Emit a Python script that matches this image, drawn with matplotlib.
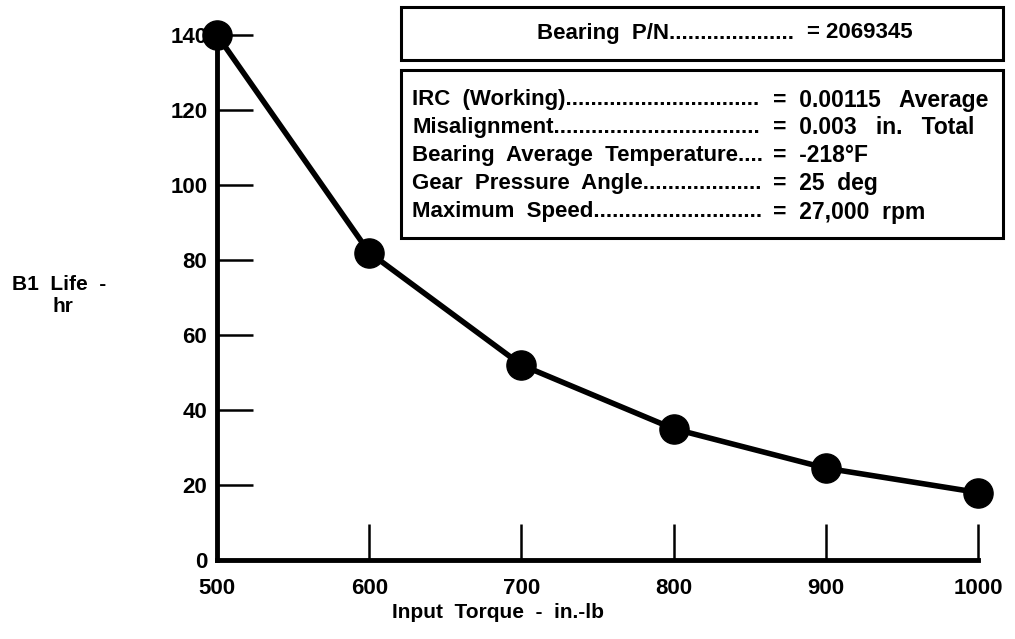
import matplotlib
matplotlib.use("Agg")
import matplotlib.pyplot as plt
from matplotlib.patches import Rectangle

torque = [500, 600, 700, 800, 900, 1000]
life = [140, 82, 52, 35, 24.5, 18]
xticks = [500, 600, 700, 800, 900, 1000]
yticks = [0, 20, 40, 60, 80, 100, 120, 140]

header_name = "Bearing  P/N"
header_value = "= 2069345"
param_names = ["IRC  (Working)", "Misalignment", "Bearing  Average  Temperature",
               "Gear  Pressure  Angle", "Maximum  Speed"]
param_values = ["=  0.00115   Average", "=  0.003   in.   Total", "=  -218°F",
                "=  25  deg", "=  27,000  rpm"]

plt.rcParams['font.family'] = ['Liberation Sans', 'DejaVu Sans']
W, H = 1015, 639
fig = plt.figure(figsize=(W / 100, H / 100), dpi=100)
ax = fig.add_axes([217 / W, 1 - 560 / H, (978 - 217) / W, (560 - 35) / H])
ax.plot(torque, life, color='black', lw=4, marker='o', ms=21,
        markerfacecolor='black', clip_on=False, zorder=3)
ax.set_xlim(500, 1000)
ax.set_ylim(0, 140)
ax.set_xticks(xticks)
ax.set_yticks(yticks)
for s in ['top', 'right']:
    ax.spines[s].set_visible(False)
for s in ['left', 'bottom']:
    ax.spines[s].set_linewidth(3.5)
ax.tick_params(direction='in', length=26, width=1.8, labelsize=16, pad=7)
ax.tick_params(axis='x', pad=13)
for lab in ax.get_xticklabels() + ax.get_yticklabels():
    lab.set_fontweight('bold')
fig.text(498 / W, 1 - 613 / H, "Input  Torque  -  in.-lb", fontsize=15,
         fontweight='bold', ha='center', va='center')

fig.text(12 / W, 1 - 285 / H, "B1  Life  -", fontsize=15, fontweight='bold',
         ha='left', va='center')
fig.text(52 / W, 1 - 306 / H, "hr", fontsize=15, fontweight='bold',
         ha='left', va='center')

# boxes
fig.patches.append(Rectangle((401 / W, 1 - 60 / H), (1003 - 401) / W, 53 / H,
                             transform=fig.transFigure, fill=False, lw=2.2, ec='black'))
fig.patches.append(Rectangle((401 / W, 1 - 238 / H), (1003 - 401) / W, 168 / H,
                             transform=fig.transFigure, fill=False, lw=2.2, ec='black'))

renderer = fig.canvas.get_renderer()


def dotted(x0, y, name, x_end, size):
    t = fig.text(x0 / W, 1 - y / H, name, fontsize=size, fontweight='bold',
                 ha='left', va='center')
    s = name
    while True:
        t.set_text(s + ".")
        if t.get_window_extent(renderer).x1 > x_end:
            break
        s = s + "."
    t.set_text(s)
    return t


dotted(537, 33, header_name, 800, 16)
fig.text(807 / W, 1 - 33 / H, header_value, fontsize=16, fontweight='bold',
         ha='left', va='center')
ys = [100, 128, 156, 184, 212]
for y, n, v in zip(ys, param_names, param_values):
    dotted(412, y, n, 764, 16)
    fig.text(773 / W, 1 - y / H, v, fontsize=16.5, fontweight='bold', ha='left', va='center')

fig.savefig("out.png", dpi=100)
